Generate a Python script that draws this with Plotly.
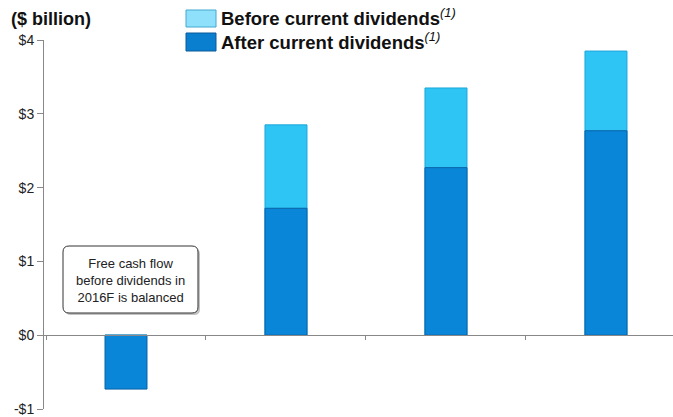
import plotly.graph_objects as go

# Free cash flow by year ($ billion)
years = ["2016F", "2017F", "2018F", "2019F"]
before_dividends = [0.0, 2.85, 3.35, 3.85]
after_dividends = [-0.73, 1.72, 2.27, 2.77]

y_ticks = [-1, 0, 1, 2, 3, 4]
y_tick_labels = ["-$1", "$0", "$1", "$2", "$3", "$4"]

W, H = 673, 417
M_L, M_R, M_T, M_B = 44, 0, 40, 8
PLOT_W = W - M_L - M_R
PLOT_H = H - M_T - M_B


def px_x(px):
    return (px - M_L) / PLOT_W


def px_y(py):
    return (M_T + PLOT_H - py) / PLOT_H


LIGHT = "#2EC4F4"
LIGHT_EDGE = "#1BA6DC"
DARK = "#0A86D8"
DARK_EDGE = "#0862A8"
FONT = "Liberation Sans, Arial, sans-serif"

fig = go.Figure()
fig.add_trace(go.Bar(
    x=years, y=before_dividends, width=0.2625, name="Before current dividends",
    marker=dict(color=LIGHT, line=dict(color=LIGHT_EDGE, width=1)),
))
fig.add_trace(go.Bar(
    x=years, y=after_dividends, width=0.2625, name="After current dividends",
    marker=dict(color=DARK, line=dict(color=DARK_EDGE, width=1)),
))


def rounded_rect(x0, y0, x1, y1, r):
    # pixel corners converted to paper coordinates
    pts = [
        ("M", x0 + r, y0), ("L", x1 - r, y0), ("Q", x1, y0, x1, y0 + r),
        ("L", x1, y1 - r), ("Q", x1, y1, x1 - r, y1), ("L", x0 + r, y1),
        ("Q", x0, y1, x0, y1 - r), ("L", x0, y0 + r), ("Q", x0, y0, x0 + r, y0),
    ]
    out = []
    for p in pts:
        cmd, vals = p[0], p[1:]
        coords = []
        for i in range(0, len(vals), 2):
            coords.append(f"{px_x(vals[i]):.5f},{px_y(vals[i + 1]):.5f}")
        out.append(cmd + " ".join(coords))
    return " ".join(out) + " Z"


shapes = [
    # callout shadow and box
    dict(type="path", xref="paper", yref="paper",
         path=rounded_rect(65, 248, 200, 315, 6),
         fillcolor="rgba(120,120,120,0.45)", line=dict(width=0), layer="above"),
    dict(type="path", xref="paper", yref="paper",
         path=rounded_rect(63, 246, 198, 313, 6),
         fillcolor="white", line=dict(color="#333333", width=1), layer="above"),
    # legend swatches
    dict(type="rect", xref="paper", yref="paper",
         x0=px_x(186), x1=px_x(216), y0=px_y(27), y1=px_y(10),
         fillcolor="#8EE0FB", line=dict(color="#45A8D0", width=1)),
    dict(type="rect", xref="paper", yref="paper",
         x0=px_x(186), x1=px_x(216), y0=px_y(51), y1=px_y(33),
         fillcolor="#0A7FCF", line=dict(color="#0A5A9A", width=1)),
]

legend_text = (
    "<b>Before current dividends</b><sup><i>(1)</i></sup><br>"
    "<b>After current dividends</b><sup><i>(1)</i></sup>"
)

annotations = [
    dict(text="<b>($ billion)</b>", xref="paper", yref="paper",
         x=px_x(9), y=px_y(19), xanchor="left", yanchor="middle", showarrow=False,
         font=dict(family=FONT, size=18, color="#111111")),
    dict(text=legend_text, xref="paper", yref="paper", align="left",
         x=px_x(219), y=px_y(29), xanchor="left", yanchor="middle", showarrow=False,
         font=dict(family=FONT, size=18.5, color="#111111")),
    dict(text="Free cash flow<br>before dividends in<br>2016F is balanced",
         xref="paper", yref="paper", x=px_x(130.5), y=px_y(280), xanchor="center", yanchor="middle",
         showarrow=False, align="center",
         font=dict(family=FONT, size=13, color="#222222")),
]

fig.update_layout(
    width=W, height=H,
    margin=dict(l=M_L, r=M_R, t=M_T, b=M_B),
    paper_bgcolor="white", plot_bgcolor="white",
    barmode="overlay", showlegend=False,
    shapes=shapes, annotations=annotations,
    xaxis=dict(
        type="category", range=[-0.5125, 3.419], showticklabels=False,
        tickson="boundaries", ticks="outside", ticklen=4, tickcolor="#888888",
        showline=True, linecolor="#888888", linewidth=1, showgrid=False,
        zeroline=False, anchor="free", position=0.2,
    ),
    yaxis=dict(
        range=[-1, 4], tickvals=y_ticks, ticktext=y_tick_labels,
        ticks="outside", ticklen=6, tickcolor="#888888",
        showline=True, linecolor="#888888", linewidth=1, showgrid=False,
        zeroline=False, tickfont=dict(family=FONT, size=14, color="#222222"),
    ),
)

fig.write_html("out.html")
